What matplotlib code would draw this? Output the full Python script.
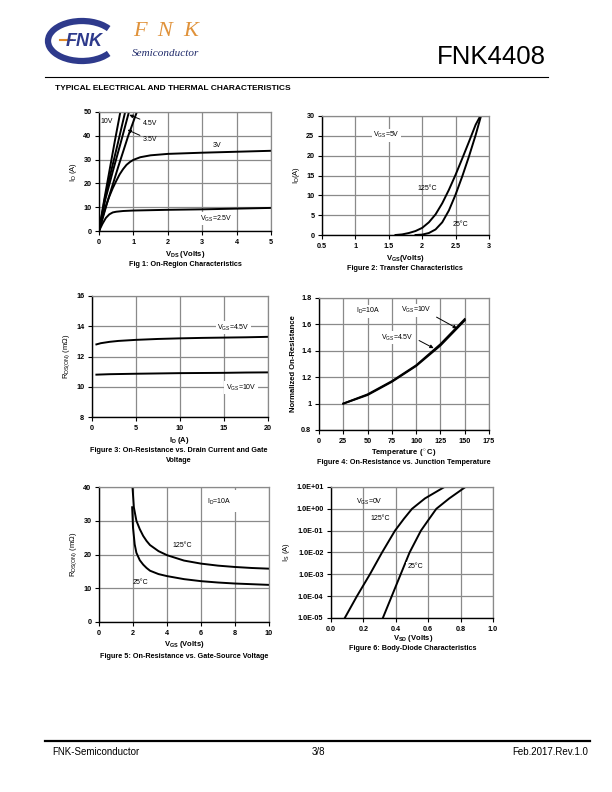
import matplotlib
matplotlib.use("Agg")
import matplotlib.pyplot as plt
import numpy as np
from matplotlib.patches import Arc
from matplotlib.ticker import NullLocator

plt.rcParams['font.family'] = ['Liberation Sans', 'DejaVu Sans']
plt.rcParams['mathtext.fontset'] = 'custom'
plt.rcParams['mathtext.rm'] = 'Liberation Sans'
plt.rcParams['mathtext.it'] = 'Liberation Sans:italic'
plt.rcParams['mathtext.bf'] = 'Liberation Sans:bold'

# ---------------- data ----------------
# Fig 1: On-region characteristics (VDS in V, ID in A)
f1_vds_10v = [0, 0.15, 0.30, 0.45, 0.62]
f1_id_10v = [0, 13, 25, 37, 50]
f1_vds_6v = [0, 0.16, 0.35, 0.55, 0.76]
f1_id_6v = [0, 13, 25, 37, 50]
f1_vds_45v = [0, 0.18, 0.40, 0.63, 0.87]
f1_id_45v = [0, 13, 25, 37, 50]
f1_vds_35v = [0, 0.26, 0.56, 0.85, 1.10]
f1_id_35v = [0, 13, 27, 40, 50]
f1_vds_3v = [0, 0.1, 0.2, 0.3, 0.4, 0.5, 0.6, 0.7, 0.8, 0.9, 1.0, 1.2, 1.5, 2, 3, 4, 5]
f1_id_3v = [0, 5.5, 10.5, 14.5, 18, 21, 23.8, 26, 27.8, 29, 29.9, 31, 31.8, 32.4, 32.9, 33.3, 33.7]
f1_vds_25v = [0, 0.1, 0.2, 0.3, 0.4, 0.5, 0.7, 1, 2, 3, 4, 5]
f1_id_25v = [0, 3, 5.5, 7.0, 7.8, 8.1, 8.4, 8.6, 8.9, 9.1, 9.4, 9.7]

# Fig 2: Transfer characteristics (VGS in V, ID in A)
f2_vgs_25c = [1.9, 2.0, 2.1, 2.2, 2.3, 2.4, 2.5, 2.6, 2.7, 2.8, 2.88]
f2_id_25c = [0, 0.1, 0.5, 1.4, 3.2, 6.2, 10.2, 14.8, 19.8, 25.2, 30]
f2_vgs_125c = [1.6, 1.7, 1.8, 1.9, 2.0, 2.1, 2.2, 2.3, 2.4, 2.5, 2.6, 2.7, 2.8, 2.87]
f2_id_125c = [0, 0.15, 0.5, 1.0, 1.8, 3.2, 5.2, 8.0, 11.4, 15.2, 19.3, 23.5, 27.8, 30]

# Fig 3: On-resistance vs drain current (ID in A, RDS in mOhm)
f3_id = [0.5, 1, 2, 3, 5, 7.5, 10, 12.5, 15, 17.5, 20]
f3_r_45v = [12.8, 12.88, 12.97, 13.03, 13.1, 13.16, 13.2, 13.23, 13.25, 13.27, 13.3]
f3_r_10v = [10.8, 10.81, 10.83, 10.84, 10.86, 10.88, 10.9, 10.91, 10.92, 10.94, 10.95]

# Fig 4: Normalized on-resistance vs temperature
f4_temp = [25, 50, 75, 100, 125, 150]
f4_r_10v = [1.0, 1.07, 1.17, 1.29, 1.45, 1.64]
f4_r_45v = [1.0, 1.065, 1.165, 1.285, 1.44, 1.63]

# Fig 5: On-resistance vs gate-source voltage (VGS in V, RDS in mOhm)
f5_vgs_125c = [1.97, 2.05, 2.2, 2.4, 2.6, 2.8, 3.0, 3.5, 4, 5, 6, 7, 8, 9, 10]
f5_r_125c = [40, 34, 30, 27.5, 25.5, 24, 22.8, 21, 19.8, 18.2, 17.3, 16.7, 16.3, 16.0, 15.8]
f5_vgs_25c = [1.95, 2.0, 2.1, 2.2, 2.4, 2.6, 2.8, 3.0, 3.5, 4, 5, 6, 7, 8, 9, 10]
f5_r_25c = [34, 28, 23, 20.5, 18.3, 17.0, 16.0, 15.2, 14.2, 13.6, 12.7, 12.1, 11.7, 11.4, 11.2, 11.0]

# Fig 6: Body diode characteristics (VSD in V, IS in A)
f6_vsd_125c = [0.085, 0.16, 0.24, 0.315, 0.395, 0.45, 0.50, 0.58, 0.70]
f6_is_125c = [1e-5, 1e-4, 1e-3, 1e-2, 1e-1, 3.5e-1, 1.0, 3.0, 10.0]
f6_vsd_25c = [0.32, 0.375, 0.43, 0.485, 0.555, 0.60, 0.65, 0.73, 0.83]
f6_is_25c = [1e-5, 1e-4, 1e-3, 1e-2, 1e-1, 3.0e-1, 1.0, 3.0, 10.0]

# ---------------- figure ----------------
W, H = 612, 792
fig = plt.figure(figsize=(6.12, 7.92), dpi=100)


def ax_at(l, r, t, b):
    return fig.add_axes([l / W, 1 - b / H, (r - l) / W, (b - t) / H])


def ftext(x, y, s, **kw):
    kw.setdefault('ha', 'center')
    kw.setdefault('va', 'center')
    fig.text(x / W, 1 - y / H, s, **kw)


def style(ax, xlim, ylim, xticks, yticks, xtl=None, ytl=None):
    ax.set_xlim(xlim)
    ax.set_ylim(ylim)
    ax.set_xticks(xticks)
    ax.set_yticks(yticks)
    if xtl is not None:
        ax.set_xticklabels(xtl)
    if ytl is not None:
        ax.set_yticklabels(ytl)
    ax.grid(True, color='#8a8a8a', lw=0.9)
    ax.set_axisbelow(True)
    for s in ['top', 'right']:
        ax.spines[s].set_color('#8a8a8a')
        ax.spines[s].set_linewidth(0.9)
    for s in ['left', 'bottom']:
        ax.spines[s].set_color('black')
        ax.spines[s].set_linewidth(1.0)
    ax.tick_params(direction='out', length=3, width=0.8, labelsize=5.2, pad=2.5)
    for lab in ax.get_xticklabels() + ax.get_yticklabels():
        lab.set_fontweight('bold')


LW = 1.4
ANN = dict(fontsize=5)
ARROW = dict(arrowstyle='-|>', color='black', lw=0.7, mutation_scale=5, shrinkA=0, shrinkB=0)
WHITE = dict(facecolor='white', edgecolor='none', pad=1.0)

# ---- header ----
lax = fig.add_axes([0, 1 - 70 / H, 230 / W, 70 / H])
lax.set_xlim(0, 230)
lax.set_ylim(70, 0)
lax.axis('off')
lax.add_patch(Arc((82, 41), 68, 40, theta1=25, theta2=335, lw=4.5, color='#2e3a8c'))
lax.text(84, 41, 'FNK', fontsize=13, fontweight='bold', style='italic', color='#2e3a8c',
         ha='center', va='center', family='Liberation Sans')
lax.plot([60, 72], [40, 40], color='#e08a2a', lw=1.5)
lax.text(133, 31, 'F  N  K', fontsize=16, color='#e0923a', family='Liberation Serif',
         style='italic', ha='left', va='center')
lax.text(132, 54, 'Semiconductor', fontsize=8, color='#1f2a6a', family='Liberation Serif',
         style='italic', ha='left', va='center')

ftext(546, 57, 'FNK4408', fontsize=18.5, ha='right')
fig.add_artist(plt.Line2D([45 / W, 548 / W], [1 - 77 / H, 1 - 77 / H], color='black', lw=0.8))
ftext(55, 89, 'TYPICAL ELECTRICAL AND THERMAL CHARACTERISTICS', fontsize=6, fontweight='bold', ha='left')

# ---- footer ----
fig.add_artist(plt.Line2D([45 / W, 590 / W], [1 - 741 / H, 1 - 741 / H], color='black', lw=1.6))
ftext(52, 752, 'FNK-Semiconductor', fontsize=7, ha='left')
ftext(318, 752, '3/8', fontsize=7)
ftext(588, 752, 'Feb.2017.Rev.1.0', fontsize=7, ha='right')

# ---- Fig 1 ----
ax1 = ax_at(99, 271, 112, 231)
style(ax1, (0, 5), (0, 50), range(0, 6), range(0, 51, 10))
for xs, ys in [(f1_vds_10v, f1_id_10v), (f1_vds_6v, f1_id_6v), (f1_vds_45v, f1_id_45v),
               (f1_vds_35v, f1_id_35v), (f1_vds_3v, f1_id_3v), (f1_vds_25v, f1_id_25v)]:
    ax1.plot(xs, ys, color='black', lw=LW, clip_on=True)
ax1.text(0.03, 46, '10V', ha='left', va='center', **ANN)
ax1.annotate('4.5V', xy=(0.88, 48.8), xytext=(1.27, 45.3), va='center', ha='left',
             arrowprops=ARROW, **ANN)
ax1.annotate('3.5V', xy=(0.83, 42.5), xytext=(1.27, 38.3), va='center', ha='left',
             arrowprops=ARROW, **ANN)
ax1.text(3.3, 36, '3V', ha='left', va='center', **ANN)
ax1.text(2.95, 5.2, 'V$_\\mathrm{GS}$=2.5V', ha='left', va='center', bbox=WHITE, **ANN)
ax1.set_ylabel('I$_\\mathrm{D}$ (A)', fontsize=5.5, labelpad=3)
ftext(185, 255, 'V$_\\mathbf{DS}$ (Volts)', fontsize=5.5, fontweight='bold')
ftext(185, 265, 'Fig 1: On-Region Characteristics', fontsize=5.2, fontweight='bold')

# ---- Fig 2 ----
ax2 = ax_at(322, 489, 116, 235)
style(ax2, (0.5, 3), (0, 30), [0.5, 1, 1.5, 2, 2.5, 3], range(0, 31, 5),
      xtl=['0.5', '1', '1.5', '2', '2.5', '3'])
ax2.plot(f2_vgs_25c, f2_id_25c, color='black', lw=LW)
ax2.plot(f2_vgs_125c, f2_id_125c, color='black', lw=LW)
ax2.text(1.27, 25.2, 'V$_\\mathrm{GS}$=5V', ha='left', va='center', bbox=WHITE, **ANN)
ax2.text(1.93, 11.6, '125°C', ha='left', va='center', **ANN)
ax2.text(2.46, 2.7, '25°C', ha='left', va='center', **ANN)
ax2.set_ylabel('I$_\\mathrm{D}$(A)', fontsize=5.5, labelpad=3)
ftext(405, 258, 'V$_\\mathbf{GS}$(Volts)', fontsize=5.5, fontweight='bold')
ftext(405, 269, 'Figure 2: Transfer Characteristics', fontsize=5.2, fontweight='bold')

# ---- Fig 3 ----
ax3 = ax_at(92, 268, 296, 417)
style(ax3, (0, 20), (8, 16), range(0, 21, 5), range(8, 17, 2))
ax3.plot(f3_id, f3_r_45v, color='black', lw=LW)
ax3.plot(f3_id, f3_r_10v, color='black', lw=LW)
ax3.text(14.2, 13.9, 'V$_\\mathrm{GS}$=4.5V', ha='left', va='center', bbox=WHITE, **ANN)
ax3.text(15.2, 9.95, 'V$_\\mathrm{GS}$=10V', ha='left', va='center', bbox=WHITE, **ANN)
ax3.set_ylabel('R$_\\mathrm{DS(ON)}$ (m$\\Omega$)', fontsize=5.5, labelpad=3)
ftext(179, 440, 'I$_\\mathbf{D}$ (A)', fontsize=5.5, fontweight='bold')
ftext(179, 451, 'Figure 3: On-Resistance vs. Drain Current and Gate', fontsize=5.2, fontweight='bold')
ftext(179, 461, 'Voltage', fontsize=5.2, fontweight='bold')

# ---- Fig 4 ----
ax4 = ax_at(319, 489, 298, 430)
style(ax4, (0, 175), (0.8, 1.8), range(0, 176, 25), [0.8, 1.0, 1.2, 1.4, 1.6, 1.8],
      ytl=['0.8', '1', '1.2', '1.4', '1.6', '1.8'])
ax4.plot(f4_temp, f4_r_10v, color='black', lw=LW)
ax4.plot(f4_temp, f4_r_45v, color='black', lw=LW)
ax4.text(38, 1.70, 'I$_\\mathrm{D}$=10A', ha='left', va='center', bbox=WHITE, **ANN)
ax4.text(84, 1.707, 'V$_\\mathrm{GS}$=10V', ha='left', va='center', bbox=WHITE, **ANN)
ax4.annotate('', xy=(142, 1.57), xytext=(121, 1.655), arrowprops=ARROW)
ax4.text(64, 1.50, 'V$_\\mathrm{GS}$=4.5V', ha='left', va='center', bbox=WHITE, **ANN)
ax4.annotate('', xy=(118, 1.42), xytext=(103, 1.478), arrowprops=ARROW)
ax4.set_ylabel('Normalized On-Resistance', fontsize=5.5, fontweight='bold', labelpad=3)
ftext(404, 453, 'Temperature ($^\\circ$C)', fontsize=5.5, fontweight='bold')
ftext(404, 463, 'Figure 4: On-Resistance vs. Junction Temperature', fontsize=5.2, fontweight='bold')

# ---- Fig 5 ----
ax5 = ax_at(99, 269, 487, 622)
style(ax5, (0, 10), (0, 40), range(0, 11, 2), range(0, 41, 10))
ax5.plot(f5_vgs_125c, f5_r_125c, color='black', lw=LW)
ax5.plot(f5_vgs_25c, f5_r_25c, color='black', lw=LW)
ax5.text(6.35, 35.7, 'I$_\\mathrm{D}$=10A', ha='left', va='center', **ANN)
ax5.add_patch(plt.Rectangle((7.75, 32.5), 0.5, 6.5, facecolor='white', edgecolor='none', zorder=1.5))
ax5.text(4.3, 22.6, '125°C', ha='left', va='center', **ANN)
ax5.text(2.0, 11.6, '25°C', ha='left', va='center', **ANN)
ax5.set_ylabel('R$_\\mathrm{DS(ON)}$ (m$\\Omega$)', fontsize=5.5, labelpad=3)
ftext(184, 645, 'V$_\\mathbf{GS}$ (Volts)', fontsize=5.5, fontweight='bold')
ftext(184, 657, 'Figure 5: On-Resistance vs. Gate-Source Voltage', fontsize=5.2, fontweight='bold')

# ---- Fig 6 ----
ax6 = ax_at(331, 493, 487, 618)
ax6.set_yscale('log')
style(ax6, (0, 1.0), (1e-5, 1e1), [0, 0.2, 0.4, 0.6, 0.8, 1.0],
      [1e-5, 1e-4, 1e-3, 1e-2, 1e-1, 1e0, 1e1],
      xtl=['0.0', '0.2', '0.4', '0.6', '0.8', '1.0'],
      ytl=['1.0E-05', '1.0E-04', '1.0E-03', '1.0E-02', '1.0E-01', '1.0E+00', '1.0E+01'])
ax6.yaxis.set_minor_locator(NullLocator())
ax6.plot(f6_vsd_125c, f6_is_125c, color='black', lw=LW)
ax6.plot(f6_vsd_25c, f6_is_25c, color='black', lw=LW)
ax6.text(0.155, 2.05, 'V$_\\mathrm{GS}$=0V', ha='left', va='center', **ANN)
ax6.text(0.245, 0.35, '125°C', ha='left', va='center', **ANN)
ax6.text(0.47, 2.3e-3, '25°C', ha='left', va='center', bbox=WHITE, **ANN)
ax6.set_ylabel('I$_\\mathrm{S}$ (A)', fontsize=5.5, labelpad=3)
ftext(413, 638, 'V$_\\mathbf{SD}$ (Volts)', fontsize=5.5, fontweight='bold')
ftext(413, 649, 'Figure 6: Body-Diode Characteristics', fontsize=5.2, fontweight='bold')

fig.savefig('out.png', dpi=100)
